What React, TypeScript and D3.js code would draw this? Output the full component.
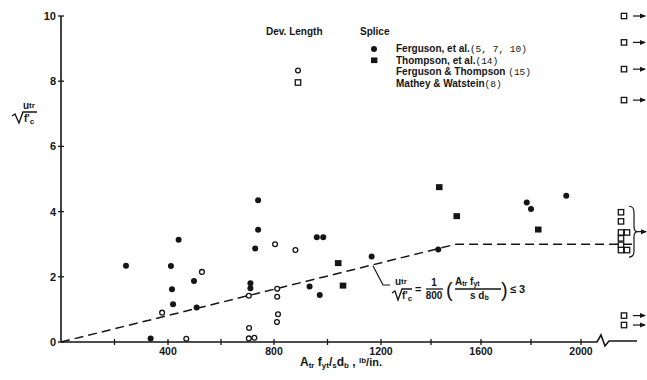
import React, { useRef, useEffect } from 'react';
import * as d3 from 'd3';

// x: A_tr f_yt / s d_b (lb/in.), y: u_tr / sqrt(f'c)
const fergusonEtAl = [
  [243, 2.34], [335, 0.11], [411, 2.33], [440, 3.14], [415, 1.62], [419, 1.16],
  [498, 1.87], [508, 1.06], [740, 4.35], [740, 3.44], [729, 2.87], [711, 1.8],
  [711, 1.65], [933, 1.7], [971, 1.44], [960, 3.21], [984, 3.21], [1165, 2.62],
  [1429, 2.84], [1783, 4.28], [1800, 4.08], [1941, 4.49],
];
const thompsonEtAl = [[1040, 2.42], [1058, 1.73], [1433, 4.75], [1503, 3.86], [1829, 3.45]];
const fergusonThompson = [
  [378, 0.9], [469, 0.1], [528, 2.15], [705, 1.42], [706, 0.43], [705, 0.11],
  [726, 0.13], [804, 3.0], [812, 1.63], [812, 1.39], [815, 0.85], [811, 0.61],
  [880, 2.82],
];
// Mathey & Watstein values beyond the axis break
const matheyOffHigh = [10.0, 9.19, 8.37, 7.42];
const matheyOffLow = [0.81, 0.52];
const matheyBracedLeft = [3.98, 3.7, 3.36, 3.18, 2.98, 2.82];
const matheyBracedRight = [3.36, 2.82];

const xTicks = [200, 400, 600, 800, 1000, 1200, 1400, 1600, 1800, 2000];
const xTickLabels = [400, 800, 1200, 1600, 2000];
const yTicks = [0, 2, 4, 6, 8, 10];
const limitLine = [[0, 0], [1500, 3]];

const INK = '#151515';
const SANS = 'Liberation Sans, Arial, sans-serif';
const MONO = 'Liberation Mono, DejaVu Sans Mono, monospace';

const App = () => {
  const svgRef = useRef(null);

  useEffect(() => {
    const svg = d3.select(svgRef.current);
    svg.selectAll('*').remove();

    const x = d3.scaleLinear()
      .domain([0, 400, 800, 1200, 1600, 2000])
      .range([61, 168, 274, 381, 481, 581]);
    const y = d3.scaleLinear().domain([0, 10]).range([342, 16]);
    const off = d3.scalePoint().domain(['L', 'M', 'R']).range([621, 627]);
    const plotRight = 637;
    const x0 = x(0), y0 = y(0);

    svg.append('rect').attr('width', 647).attr('height', 380).attr('fill', '#fff');

    const defs = svg.append('defs');
    defs.append('marker')
      .attr('id', 'arr').attr('viewBox', '0 0 6 6').attr('refX', 5).attr('refY', 3)
      .attr('markerWidth', 6).attr('markerHeight', 6).attr('markerUnits', 'userSpaceOnUse')
      .attr('orient', 'auto')
      .append('path').attr('d', 'M0,0.5 L6,3 L0,5.5 Z').attr('fill', INK);

    // axes
    svg.append('line').attr('x1', x0).attr('x2', x0).attr('y1', y0).attr('y2', y(10))
      .attr('stroke', INK).attr('stroke-width', 1.6);
    svg.append('path')
      .attr('d', `M${x0},${y0} L597,${y0} L601,${y0 - 7} L605,${y0 + 4} L609,${y0 - 1} L${plotRight},${y0 - 1}`)
      .attr('fill', 'none').attr('stroke', INK).attr('stroke-width', 1.6);

    svg.selectAll('.yt').data(yTicks).enter().append('line')
      .attr('x1', x0 - 3).attr('x2', x0 + 3).attr('y1', d => y(d)).attr('y2', d => y(d))
      .attr('stroke', INK).attr('stroke-width', 1.3);
    svg.selectAll('.yl').data(yTicks).enter().append('text')
      .attr('x', x0 - 5).attr('y', d => y(d) + 4).attr('text-anchor', 'end')
      .attr('font-family', SANS).attr('font-size', 11).attr('font-weight', 'bold').attr('fill', INK)
      .text(d => d);

    svg.selectAll('.xt').data(xTicks).enter().append('line')
      .attr('x1', d => x(d)).attr('x2', d => x(d)).attr('y1', y0 - 3).attr('y2', y0 + 3)
      .attr('stroke', INK).attr('stroke-width', 1.3);
    svg.selectAll('.xl').data(xTickLabels).enter().append('text')
      .attr('x', d => x(d)).attr('y', 355).attr('text-anchor', 'middle')
      .attr('font-family', SANS).attr('font-size', 10.5).attr('font-weight', 'bold').attr('fill', INK)
      .text(d => d);

    // x label
    const xl = svg.append('text').attr('x', 300).attr('y', 366)
      .attr('font-family', SANS).attr('font-weight', 'bold').attr('fill', INK);
    xl.append('tspan').attr('font-size', 12).text('A');
    xl.append('tspan').attr('font-size', 8).attr('dy', 2).text('tr');
    xl.append('tspan').attr('font-size', 12).attr('dy', -2).text(' f');
    xl.append('tspan').attr('font-size', 8).attr('dy', 2).text('yt');
    xl.append('tspan').attr('font-size', 12).attr('dy', -2).text('/');
    xl.append('tspan').attr('font-size', 8).attr('dy', 2).text('s');
    xl.append('tspan').attr('font-size', 12).attr('dy', -2).text('d');
    xl.append('tspan').attr('font-size', 8).attr('dy', 2).text('b');
    xl.append('tspan').attr('font-size', 12).attr('dy', -2).text(' , ');
    xl.append('tspan').attr('font-size', 8).attr('dy', -3).text('lb');
    xl.append('tspan').attr('font-size', 11).attr('dy', 3).text('/in.');

    // y label
    const ylab = svg.append('g').attr('font-family', SANS).attr('font-weight', 'bold').attr('fill', INK);
    const un = ylab.append('text').attr('x', 23).attr('y', 109);
    un.append('tspan').attr('font-size', 10).text('u');
    un.append('tspan').attr('font-size', 8).attr('dy', -1).text('tr');
    ylab.append('path').attr('d', 'M12,116 L15,114 L19,123 L23,112 L37,112')
      .attr('fill', 'none').attr('stroke', INK).attr('stroke-width', 1.4);
    const fc = ylab.append('text').attr('x', 24).attr('y', 122);
    fc.append('tspan').attr('font-size', 10).text("f'");
    fc.append('tspan').attr('font-size', 8).attr('dy', 2).text('c');

    // limit line
    const lim = limitLine.map(d => [x(d[0]), y(d[1])]);
    lim.push([plotRight, y(limitLine[1][1])]);
    svg.append('path').attr('d', d3.line()(lim as any))
      .attr('fill', 'none').attr('stroke', INK).attr('stroke-width', 1.5)
      .attr('stroke-dasharray', '9 5');

    // leader + formula
    const lx = 1170;
    svg.append('path')
      .attr('d', `M${x(lx)},${y(lx / 500)} L383,285 L390,285`)
      .attr('fill', 'none').attr('stroke', INK).attr('stroke-width', 1.2);
    const fg = svg.append('g').attr('font-family', SANS).attr('font-weight', 'bold').attr('fill', INK);
    const fu = fg.append('text').attr('x', 395).attr('y', 285);
    fu.append('tspan').attr('font-size', 10).text('u');
    fu.append('tspan').attr('font-size', 8).attr('dy', -1).text('tr');
    fg.append('path').attr('d', 'M392,293 L395,291 L398,300 L402,289 L412,289')
      .attr('fill', 'none').attr('stroke', INK).attr('stroke-width', 1.3);
    const ff = fg.append('text').attr('x', 402).attr('y', 299);
    ff.append('tspan').attr('font-size', 10).text("f'");
    ff.append('tspan').attr('font-size', 8).attr('dy', 2).text('c');
    fg.append('text').attr('x', 415).attr('y', 293).attr('font-size', 11).text('=');
    fg.append('text').attr('x', 434).attr('y', 286).attr('font-size', 10).attr('text-anchor', 'middle').text('1');
    fg.append('line').attr('x1', 426).attr('x2', 443).attr('y1', 289).attr('y2', 289)
      .attr('stroke', INK).attr('stroke-width', 1.3);
    fg.append('text').attr('x', 434).attr('y', 299).attr('font-size', 10).attr('text-anchor', 'middle').text('800');
    fg.append('text').attr('x', 446).attr('y', 297).attr('font-size', 20).attr('font-weight', 'normal').text('(');
    const fn = fg.append('text').attr('x', 455).attr('y', 285);
    fn.append('tspan').attr('font-size', 10).text('A');
    fn.append('tspan').attr('font-size', 7).attr('dy', 1).text('tr');
    fn.append('tspan').attr('font-size', 10).attr('dy', -1).text(' f');
    fn.append('tspan').attr('font-size', 7).attr('dy', 1).text('yt');
    fg.append('line').attr('x1', 455).attr('x2', 501).attr('y1', 289).attr('y2', 289)
      .attr('stroke', INK).attr('stroke-width', 1.3);
    const fd = fg.append('text').attr('x', 470).attr('y', 299);
    fd.append('tspan').attr('font-size', 10).text('s d');
    fd.append('tspan').attr('font-size', 7).attr('dy', 1).text('b');
    fg.append('text').attr('x', 501).attr('y', 297).attr('font-size', 20).attr('font-weight', 'normal').text(')');
    fg.append('text').attr('x', 510).attr('y', 293).attr('font-size', 11).text('≤ 3');

    // points
    svg.selectAll('.fc').data(fergusonEtAl).enter().append('circle')
      .attr('cx', d => x(d[0])).attr('cy', d => y(d[1])).attr('r', 3).attr('fill', INK);
    svg.selectAll('.fs').data(thompsonEtAl).enter().append('rect')
      .attr('x', d => x(d[0]) - 3.3).attr('y', d => y(d[1]) - 3).attr('width', 6.6).attr('height', 6)
      .attr('fill', INK);
    svg.selectAll('.oc').data(fergusonThompson).enter().append('circle')
      .attr('cx', d => x(d[0])).attr('cy', d => y(d[1])).attr('r', 2.4)
      .attr('fill', '#fff').attr('stroke', INK).attr('stroke-width', 1.3);
    const openSq = (sel, cx, cy) => sel.append('rect')
      .attr('x', cx - 2.7).attr('y', cy - 2.7).attr('width', 5.4).attr('height', 5.4)
      .attr('fill', '#fff').attr('stroke', INK).attr('stroke-width', 1.3);

    // beyond the break
    [...matheyOffHigh, ...matheyOffLow].forEach(v => {
      openSq(svg, off('M'), y(v));
      svg.append('line').attr('x1', 633).attr('x2', 645).attr('y1', y(v)).attr('y2', y(v))
        .attr('stroke', INK).attr('stroke-width', 1.2).attr('marker-end', 'url(#arr)');
    });
    matheyBracedLeft.forEach(v => openSq(svg, off('L'), y(v)));
    matheyBracedRight.forEach(v => openSq(svg, off('R'), y(v)));
    const bTop = y(d3.max(matheyBracedLeft)) - 6;
    const bBot = y(d3.min(matheyBracedLeft)) + 7;
    const bMid = (bTop + bBot) / 2;
    svg.append('path')
      .attr('d', `M629,${bTop} Q634,${bTop} 634,${bTop + 6} L634,${bMid - 5} Q634,${bMid} 638,${bMid} Q634,${bMid} 634,${bMid + 5} L634,${bBot - 6} Q634,${bBot} 629,${bBot}`)
      .attr('fill', 'none').attr('stroke', INK).attr('stroke-width', 1.2);
    svg.append('line').attr('x1', 638).attr('x2', 646).attr('y1', bMid).attr('y2', bMid)
      .attr('stroke', INK).attr('stroke-width', 1.2).attr('marker-end', 'url(#arr)');

    // legend
    const lg = svg.append('g').attr('font-family', SANS).attr('font-weight', 'bold')
      .attr('font-size', 10).attr('fill', INK);
    lg.append('text').attr('x', 266).attr('y', 35).text('Dev. Length');
    lg.append('text').attr('x', 360).attr('y', 35).text('Splice');
    const rows = [
      ['Ferguson, et al.', '(5, 7, 10)', 48.5],
      ['Thompson, et al.', '(14)', 60],
      ['Ferguson & Thompson ', '(15)', 71.5],
      ['Mathey & Watstein', '(8)', 83],
    ];
    rows.forEach(r => {
      const t = lg.append('text').attr('x', 396).attr('y', (r[2] as number) + 3.5);
      t.append('tspan').text(r[0] as string);
      t.append('tspan').attr('font-family', MONO).attr('font-weight', 'normal').attr('font-size', 9.5).text(r[1] as string);
    });
    svg.append('circle').attr('cx', 374).attr('cy', 49).attr('r', 3).attr('fill', INK);
    svg.append('rect').attr('x', 371).attr('y', 57.5).attr('width', 6.4).attr('height', 5.6).attr('fill', INK);
    svg.append('circle').attr('cx', 298).attr('cy', 70.5).attr('r', 2.4)
      .attr('fill', '#fff').attr('stroke', INK).attr('stroke-width', 1.3);
    openSq(svg, 298, 82.5);
  }, []);

  return (
    <svg ref={svgRef} width={647} height={380}
      style={{ position: 'absolute', left: 0, top: 0, display: 'block' }} />
  );
};

export default App;
